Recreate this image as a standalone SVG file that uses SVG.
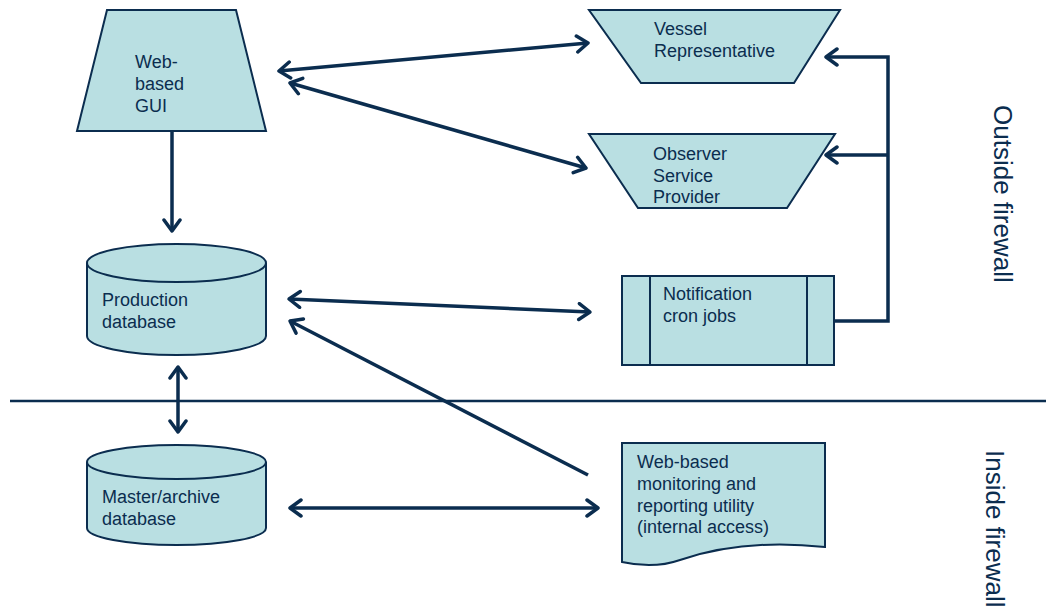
<svg xmlns="http://www.w3.org/2000/svg" width="1046" height="608" viewBox="0 0 1046 608">
  <style>
    .shape { fill: #B9DFE2; stroke: #0B2D4F; stroke-width: 2; }
    .label { font-family: "Liberation Sans", Arial, sans-serif; font-size: 18px; fill: #0B2D4F; }
    .zone { font-family: "Liberation Sans", Arial, sans-serif; font-size: 26px; fill: #0B2D4F; }
    .link { fill: none; stroke: #0B2D4F; stroke-width: 3.5; }
  </style>
  <defs>
    <marker id="chevron" markerUnits="userSpaceOnUse" viewBox="-14 -10 18 20" refX="0" refY="0" markerWidth="18" markerHeight="20" orient="auto-start-reverse">
      <path d="M-11,-8 L0,0 L-11,8" fill="none" stroke="#0B2D4F" stroke-width="3.5" stroke-linecap="round" stroke-linejoin="round"/>
    </marker>
  </defs>
  <rect width="1046" height="608" fill="#FFFFFF"/>

  <!-- firewall boundary -->
  <line x1="10" y1="401" x2="1046" y2="401" stroke="#0B2D4F" stroke-width="2.5"/>
  <text class="zone" transform="translate(994,105) rotate(90)">Outside firewall</text>
  <text class="zone" transform="translate(986,450) rotate(90)">Inside firewall</text>

  <g id="web-gui">
    <polygon class="shape" points="107,10 236,10 266,131 77,131"/>
    <text class="label" x="135" y="68">Web-</text>
    <text class="label" x="135" y="90">based</text>
    <text class="label" x="135" y="112">GUI</text>
  </g>

  <g id="vessel-rep">
    <polygon class="shape" points="589,10 840,10 794,83 641,83"/>
    <text class="label" x="654" y="35">Vessel</text>
    <text class="label" x="654" y="57">Representative</text>
  </g>

  <g id="observer-provider">
    <polygon class="shape" points="589,134 835,134 787,208 638,208"/>
    <text class="label" x="653" y="160">Observer</text>
    <text class="label" x="653" y="182">Service</text>
    <text class="label" x="653" y="203">Provider</text>
  </g>

  <g id="production-db">
    <path class="shape" d="M87,263 L87,336 A89.5,19 0 0 0 266,336 L266,263 A89.5,19 0 0 0 87,263 Z"/>
    <path class="shape" fill="none" d="M87,263 A89.5,19 0 0 0 266,263" style="fill:none"/>
    <text class="label" x="102" y="306">Production</text>
    <text class="label" x="102" y="328">database</text>
  </g>

  <g id="notification-jobs">
    <rect class="shape" x="622" y="276" width="212" height="89"/>
    <line class="shape" x1="650" y1="276" x2="650" y2="365"/>
    <line class="shape" x1="807" y1="276" x2="807" y2="365"/>
    <text class="label" x="663" y="300">Notification</text>
    <text class="label" x="663" y="322">cron jobs</text>
  </g>

  <g id="master-db">
    <path class="shape" d="M87,462 L87,528 A89.5,17 0 0 0 266,528 L266,462 A89.5,17 0 0 0 87,462 Z"/>
    <path class="shape" d="M87,462 A89.5,17 0 0 0 266,462" style="fill:none"/>
    <text class="label" x="102" y="503">Master/archive</text>
    <text class="label" x="102" y="525">database</text>
  </g>

  <g id="monitoring-utility">
    <path class="shape" d="M622,443 L825,443 L825,547 C760,540 715,548 680,560 C660,567 640,566 622,562 Z"/>
    <text class="label" x="637" y="468">Web-based</text>
    <text class="label" x="637" y="490">monitoring and</text>
    <text class="label" x="637" y="512">reporting utility</text>
    <text class="label" x="637" y="533">(internal access)</text>
  </g>

  <g id="connectors">
    <line class="link" x1="279" y1="71" x2="588" y2="43" marker-start="url(#chevron)" marker-end="url(#chevron)"/>
    <line class="link" x1="290" y1="83" x2="586" y2="168" marker-start="url(#chevron)" marker-end="url(#chevron)"/>
    <line class="link" x1="172" y1="131" x2="172" y2="231" marker-end="url(#chevron)"/>
    <line class="link" x1="289" y1="299" x2="590" y2="312" marker-start="url(#chevron)" marker-end="url(#chevron)"/>
    <line class="link" x1="588" y1="475" x2="290" y2="321" marker-end="url(#chevron)"/>
    <line class="link" x1="178" y1="367" x2="178" y2="432" marker-start="url(#chevron)" marker-end="url(#chevron)"/>
    <line class="link" x1="290" y1="508" x2="598" y2="508" marker-start="url(#chevron)" marker-end="url(#chevron)"/>
    <polyline class="link" points="834,321 888,321 888,57 826,57" marker-end="url(#chevron)"/>
    <line class="link" x1="888" y1="155" x2="826" y2="155" marker-end="url(#chevron)"/>
  </g>
</svg>
